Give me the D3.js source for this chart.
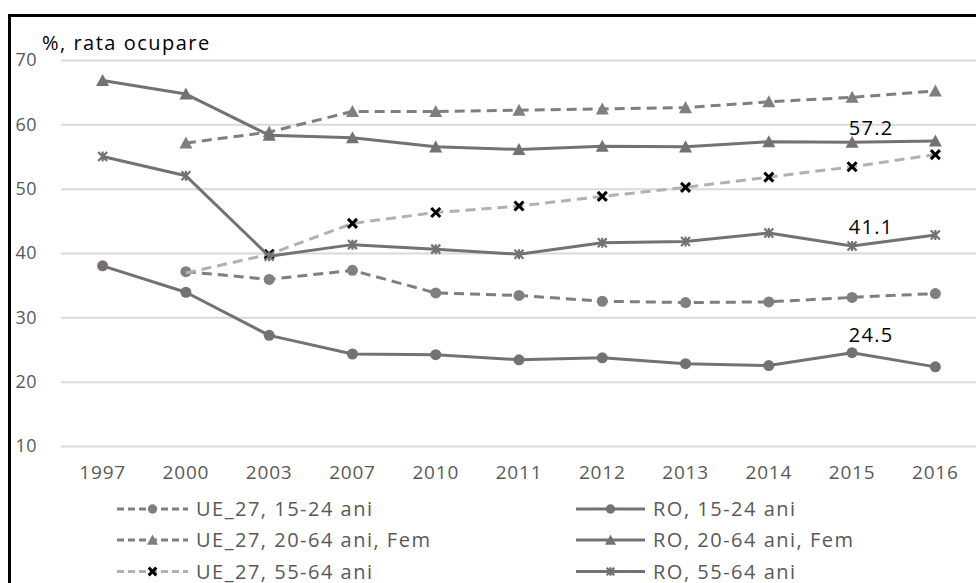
<!DOCTYPE html>
<html>
<head>
<meta charset="utf-8">
<script src="https://cdn.jsdelivr.net/npm/d3@7"></script>
<style>
  html, body { margin: 0; padding: 0; background: #fff; }
  svg text { font-family: "Open Sans", "DejaVu Sans", sans-serif; }
</style>
</head>
<body>
<svg id="chart" width="976" height="583"></svg>
<script>
// Employment rates, Romania vs EU-27
const years = ["1997","2000","2003","2007","2010","2011","2012","2013","2014","2015","2016"];
const yTicks = [10, 20, 30, 40, 50, 60, 70];

const ue1524   = [null, 37.1, 35.9, 37.3, 33.8, 33.4, 32.5, 32.3, 32.4, 33.1, 33.7];
const ro1524   = [38.0, 33.9, 27.2, 24.3, 24.2, 23.4, 23.7, 22.8, 22.5, 24.5, 22.3];
const ueFem    = [null, 57.1, 58.8, 62.0, 62.0, 62.2, 62.4, 62.6, 63.5, 64.2, 65.2];
const roFem    = [66.8, 64.7, 58.3, 57.9, 56.5, 56.1, 56.6, 56.5, 57.3, 57.2, 57.4];
const ue5564   = [null, 36.9, 39.8, 44.6, 46.3, 47.3, 48.8, 50.2, 51.8, 53.4, 55.3];
const ro5564   = [55.0, 52.0, 39.5, 41.3, 40.6, 39.8, 41.6, 41.8, 43.1, 41.1, 42.8];

const seriesNames = [
  "UE_27, 15-24 ani", "RO, 15-24 ani",
  "UE_27, 20-64 ani, Fem", "RO, 20-64 ani, Fem",
  "UE_27, 55-64 ani", "RO, 55-64 ani"
];
// years whose value is written next to the point, per series
const labelledYears = { "RO, 20-64 ani, Fem": ["2015"], "RO, 55-64 ani": ["2015"], "RO, 15-24 ani": ["2015"] };

const C_SOLID = "#767171", C_DASH = "#7f7f7f", C_LIGHT = "#b3b0b0";
const styles = {
  "UE_27, 15-24 ani":      { color: C_DASH,  dash: "10,6", marker: "circle", mcolor: C_DASH },
  "RO, 15-24 ani":         { color: C_SOLID, dash: null,   marker: "circle", mcolor: C_SOLID, labelDy: -11 },
  "UE_27, 20-64 ani, Fem": { color: C_DASH,  dash: "10,6", marker: "triangle", mcolor: C_DASH },
  "RO, 20-64 ani, Fem":    { color: C_SOLID, dash: null,   marker: "triangle", mcolor: C_SOLID, labelDy: -7 },
  "UE_27, 55-64 ani":      { color: C_LIGHT, dash: "10,6", marker: "x", mcolor: "#000", from: "2003" },
  "RO, 55-64 ani":         { color: C_SOLID, dash: null,   marker: "star", mcolor: C_SOLID, labelDy: -12 }
};
const valuesByName = {
  "UE_27, 15-24 ani": ue1524, "RO, 15-24 ani": ro1524,
  "UE_27, 20-64 ani, Fem": ueFem, "RO, 20-64 ani, Fem": roFem,
  "UE_27, 55-64 ani": ue5564, "RO, 55-64 ani": ro5564
};

const svg = d3.select("#chart");
const x = d3.scaleBand().domain(years).range([61, 977]).padding(0);
const xc = d => x(d) + x.bandwidth() / 2;
const y = d3.scaleLinear().domain([10, 70]).range([446, 60]);

// frame
svg.append("path").attr("d", "M9.5,583 L9.5,15.5 L976,15.5")
  .attr("fill", "none").attr("stroke", "#000").attr("stroke-width", 3);

// gridlines + y labels
const yAxis = d3.axisLeft(y).tickValues(yTicks).tickSize(-(977 - 61)).tickPadding(24);
const gy = svg.append("g").attr("transform", "translate(61,0)").call(yAxis);
gy.select(".domain").remove();
gy.selectAll(".tick line").attr("stroke", "#d9d9d9").attr("stroke-width", 2);
gy.selectAll(".tick text").attr("fill", "#595959").attr("font-size", 18)
  .attr("x", -24).attr("text-anchor", "end").attr("letter-spacing", 0.4);

// x labels
const xAxis = d3.axisBottom(x).tickSize(0).tickPadding(0);
const gx = svg.append("g").attr("transform", "translate(0,461)").call(xAxis);
gx.select(".domain").remove();
gx.selectAll(".tick text").attr("fill", "#595959").attr("font-size", 19)
  .attr("dy", "0.95em").attr("letter-spacing", 0.8);

// title
svg.append("text").attr("x", 42).attr("y", 50).attr("font-size", 20).attr("fill", "#000")
  .attr("letter-spacing", 1.5).text("%, rata ocupare");

function drawMarker(g, type, cx, cy, color, scale = 1) {
  if (type === "circle") {
    g.append("circle").attr("cx", cx).attr("cy", cy).attr("r", 5.5 * scale).attr("fill", color);
  } else if (type === "triangle") {
    const s = 6.5 * scale;
    g.append("path").attr("d", `M${cx},${cy - s} L${cx + s},${cy + s * 0.85} L${cx - s},${cy + s * 0.85} Z`)
      .attr("fill", color);
  } else if (type === "x") {
    const s = 4.5 * scale;
    g.append("path").attr("d", `M${cx - s},${cy - s} L${cx + s},${cy + s} M${cx - s},${cy + s} L${cx + s},${cy - s}`)
      .attr("stroke", color).attr("stroke-width", 3);
  } else if (type === "star") {
    const s = 4.5 * scale;
    g.append("path").attr("d", `M${cx - s},${cy - s} L${cx + s},${cy + s} M${cx - s},${cy + s} L${cx + s},${cy - s} M${cx},${cy - s - 0.5} L${cx},${cy + s + 0.5}`)
      .attr("stroke", color).attr("stroke-width", 2.2);
  }
}

const line = d3.line().defined(d => d.v != null).x(d => xc(d.year)).y(d => y(d.v));

// lines then markers, in series order
const plot = svg.append("g");
seriesNames.forEach(name => {
  const st = styles[name];
  const pts = years.map((yr, i) => ({ year: yr, v: valuesByName[name][i] }));
  const g = plot.append("g");
  g.append("path").datum(pts).attr("d", line).attr("fill", "none")
    .attr("stroke", st.color).attr("stroke-width", 3)
    .attr("stroke-dasharray", st.dash).attr("stroke-linejoin", "round");
  pts.forEach(p => {
    if (p.v == null) return;
    if (st.from && +p.year < +st.from) return;
    drawMarker(g, st.marker, xc(p.year), y(p.v), st.mcolor);
  });
});

// value labels
const labels = svg.append("g");
seriesNames.forEach(name => {
  (labelledYears[name] || []).forEach(yr => {
    const v = valuesByName[name][years.indexOf(yr)];
    labels.append("text").attr("x", xc(yr) + 19).attr("y", y(v) + styles[name].labelDy)
      .attr("text-anchor", "middle").attr("font-size", 20).attr("fill", "#000")
      .attr("letter-spacing", 1.3).text(v.toFixed(1));
  });
});

// legend: two columns, three rows
const legend = svg.append("g");
const legendCols = [{ x0: 117, x1: 188 }, { x0: 576, x1: 645 }];
const rowY = [509, 540, 571.5];
seriesNames.forEach((name, i) => {
  const col = legendCols[i % 2], ry = rowY[Math.floor(i / 2)];
  const st = styles[name];
  const g = legend.append("g");
  g.append("line").attr("x1", col.x0).attr("x2", col.x1).attr("y1", ry).attr("y2", ry)
    .attr("stroke", st.color).attr("stroke-width", 3)
    .attr("stroke-dasharray", st.dash ? "7,4" : null);
  drawMarker(g, st.marker, (col.x0 + col.x1) / 2, ry, st.mcolor, 0.85);
  g.append("text").attr("x", col.x1 + 8).attr("y", ry + 7).attr("font-size", 20)
    .attr("fill", "#595959").attr("letter-spacing", 1.5).text(name);
});
</script>
</body>
</html>
